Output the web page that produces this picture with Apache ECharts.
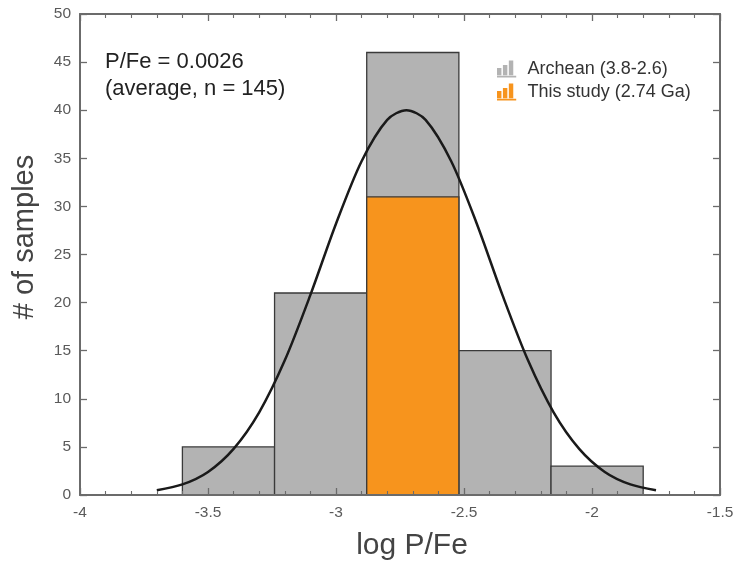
<!DOCTYPE html>
<html><head><meta charset="utf-8">
<script src="https://cdn.jsdelivr.net/npm/echarts@6/dist/echarts.min.js"></script>
<style>html,body{margin:0;padding:0;background:#fff}#c{width:738px;height:568px}</style>
</head><body><div id="c"></div>
<script>
var binEdges = [-3.60, -3.24, -2.88, -2.52, -2.16, -1.80];
var archeanCounts = [5, 21, 46, 15, 3];
var studyCounts = [0, 0, 31, 0, 0];
var curveX = [-3.70,-3.60,-3.50,-3.40,-3.30,-3.20,-3.10,-3.00,-2.90,-2.80,-2.725,-2.65,-2.55,-2.45,-2.35,-2.25,-2.15,-2.05,-1.95,-1.85,-1.75];
var curveY = [0.5,1.1,2.4,4.8,8.6,14.0,20.8,28.2,34.7,39.0,40.0,39.0,34.7,28.2,20.8,14.0,8.6,4.8,2.4,1.1,0.5];
var xTicks = {min: -4, max: -1.5, interval: 0.5};
var yTicks = {min: 0, max: 50, interval: 5};

function binData(counts){
  var d = [];
  for (var i = 0; i < counts.length; i++) {
    if (counts[i] > 0) d.push([binEdges[i], binEdges[i+1], counts[i]]);
  }
  return d;
}
function renderBar(params, api){
  var p0 = api.coord([api.value(0), 0]);
  var p1 = api.coord([api.value(1), api.value(2)]);
  return {
    type: 'rect',
    shape: {x: p0[0], y: p1[1], width: p1[0]-p0[0], height: p0[1]-p1[1]},
    style: {fill: api.visual('color'), stroke: '#3a3a3a', lineWidth: 1.3}
  };
}
var font = 'Liberation Sans, Arial, Helvetica, sans-serif';
var axisCol = '#6b6b6b';
var barIcon = 'path://M0,10V5H3V10Z M4,10V3H7V10Z M8,10V0H11V10Z M0,10.3H13V11.5H0Z';
var baseX = {type:'value', min:xTicks.min, max:xTicks.max, interval:xTicks.interval, z:10,
  axisLine:{show:true, onZero:false, lineStyle:{color:axisCol, width:2}},
  axisTick:{show:true, inside:true, length:7, lineStyle:{color:axisCol, width:1.3}},
  minorTick:{show:true, splitNumber:5, length:4, lineStyle:{color:axisCol, width:1.1}},
  splitLine:{show:false}};
var baseY = {type:'value', min:yTicks.min, max:yTicks.max, interval:yTicks.interval, z:10,
  axisLine:{show:true, onZero:false, lineStyle:{color:axisCol, width:2}},
  axisTick:{show:true, inside:true, length:7, lineStyle:{color:axisCol, width:1.3}},
  splitLine:{show:false}};
var chart = echarts.init(document.getElementById('c'));
chart.setOption({
  animation:false,
  textStyle:{fontFamily:font},
  grid:{left:80, right:18, top:14, bottom:73},
  xAxis:[
    Object.assign({}, baseX, {position:'bottom',
      axisLabel:{color:'#5a5a5a', fontSize:15.5, margin:10, fontFamily:font}}),
    Object.assign({}, baseX, {position:'top', axisLabel:{show:false}})
  ],
  yAxis:[
    Object.assign({}, baseY, {position:'left',
      axisLabel:{color:'#5a5a5a', fontSize:15.5, margin:9, fontFamily:font}}),
    Object.assign({}, baseY, {position:'right', axisLabel:{show:false}})
  ],
  legend:{
    orient:'vertical', left:492, top:55, itemGap:5, itemWidth:20, itemHeight:17,
    textStyle:{fontSize:18, color:'#333', fontFamily:font, padding:[0,0,0,6]},
    data:[{name:'Archean (3.8-2.6)', icon:barIcon}, {name:'This study (2.74 Ga)', icon:barIcon}]
  },
  graphic:[
    {type:'text', x:105, y:62, style:{text:'P/Fe = 0.0026', fontSize:22, fill:'#222', fontFamily:font, verticalAlign:'middle'}},
    {type:'text', x:105, y:89, style:{text:'(average, n = 145)', fontSize:22, fill:'#222', fontFamily:font, verticalAlign:'middle'}},
    {type:'text', x:25, y:237, rotation:Math.PI/2, style:{text:'# of samples', fontSize:29, fill:'#444', fontFamily:font, align:'center', verticalAlign:'middle'}},
    {type:'text', x:412, y:546, style:{text:'log P/Fe', fontSize:30, fill:'#444', fontFamily:font, align:'center', verticalAlign:'middle'}}
  ],
  series:[
    {name:'Archean (3.8-2.6)', type:'custom', renderItem:renderBar, itemStyle:{color:'#b3b3b3'},
      encode:{x:[0,1], y:2}, data:binData(archeanCounts), z:2},
    {name:'This study (2.74 Ga)', type:'custom', renderItem:renderBar, itemStyle:{color:'#f7941d'},
      encode:{x:[0,1], y:2}, data:binData(studyCounts), z:3},
    {name:'fit', type:'line', smooth:0.3, symbol:'none', z:5,
      lineStyle:{color:'#1a1a1a', width:2.5},
      data:curveX.map(function(x,i){return [x, curveY[i]];})}
  ]
});
</script></body></html>
